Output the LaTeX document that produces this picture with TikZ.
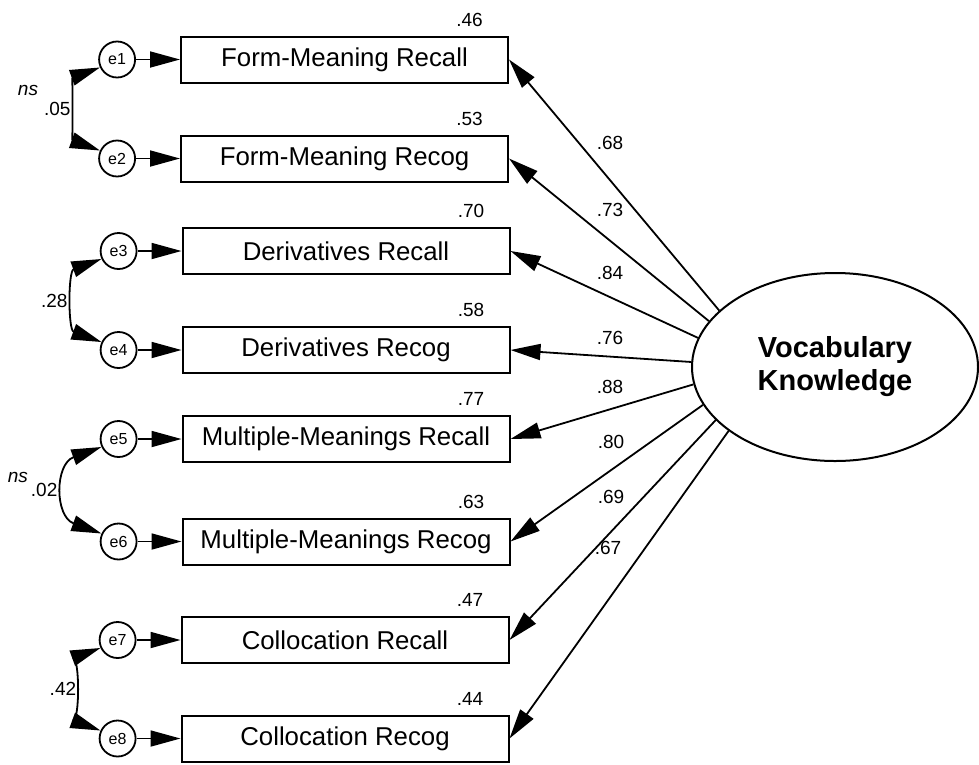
\documentclass[tikz,border=0pt]{standalone}
\usepackage{fontspec}
\setmainfont{Liberation Sans}
\usetikzlibrary{shapes.geometric, arrows.meta, positioning}

\begin{document}
\begin{tikzpicture}[
    x=1pt, y=1pt,
    node distance=44pt,
    indicator/.style={draw, rectangle, line width=2pt, minimum width=327pt, minimum height=46pt, inner sep=0pt, font=\fontsize{25.8}{30}\selectfont},
    error/.style={draw, circle, line width=1.8pt, minimum size=36pt, inner sep=0pt, font=\fontsize{16}{18}\selectfont},
    latent/.style={draw, ellipse, line width=2pt, minimum width=286pt, minimum height=188pt, inner sep=0pt, align=center, font=\fontsize{29}{33}\selectfont\bfseries},
    est/.style={font=\fontsize{19}{22}\selectfont, inner sep=1pt},
    arrow/.style={-{Triangle[length=30pt, width=16pt]}, line width=1.8pt},
    cov/.style={{Triangle[length=30pt, width=16pt]}-{Triangle[length=30pt, width=16pt]}, line width=1.8pt}
]
    \useasboundingbox (0,0) rectangle (979,-764);

    % observed measures
    \node[indicator] (fmrc) at (344.5,-59.5) {Form-Meaning Recall};
    \node[indicator] (fmrg) at (344.5,-158.5) {Form-Meaning Recog};
    \node[indicator] (drc) at (346,-251) {Derivatives Recall};
    \node[indicator] (drg) at (346,-350) {Derivatives Recog};
    \node[indicator] (mmrc) at (346,-439) {Multiple-Meanings Recall};
    \node[indicator] (mmrg) at (346,-541.5) {Multiple-Meanings Recog};
    \node[indicator] (crc) at (345,-640) {Collocation Recall};
    \node[indicator] (crg) at (345,-738.5) {Collocation Recog};

    % residuals
    \node[error, left=of fmrc] (e1) {e1};
    \node[error, left=of fmrg] (e2) {e2};
    \node[error, left=of drc] (e3) {e3};
    \node[error, left=of drg] (e4) {e4};
    \node[error, left=of mmrc] (e5) {e5};
    \node[error, left=of mmrg] (e6) {e6};
    \node[error, left=of crc] (e7) {e7};
    \node[error, left=of crg] (e8) {e8};

    % latent factor
    \node[latent] (vk) at (835,-367) {Vocabulary\\Knowledge};

    % squared multiple correlations
    \node[est, above left=8pt and 25pt of fmrc.north east] (r1) {.46};
    \node[est, above left=8pt and 25pt of fmrg.north east] (r2) {.53};
    \node[est, above left=8pt and 25pt of drc.north east] (r3) {.70};
    \node[est, above left=8pt and 25pt of drg.north east] (r4) {.58};
    \node[est, above left=8pt and 25pt of mmrc.north east] (r5) {.77};
    \node[est, above left=8pt and 25pt of mmrg.north east] (r6) {.63};
    \node[est, above left=8pt and 25pt of crc.north east] (r7) {.47};
    \node[est, above left=8pt and 25pt of crg.north east] (r8) {.44};

    \draw[arrow] (e1) -- (fmrc);
    \draw[arrow] (e2) -- (fmrg);
    \draw[arrow] (e3) -- (drc);
    \draw[arrow] (e4) -- (drg);
    \draw[arrow] (e5) -- (mmrc);
    \draw[arrow] (e6) -- (mmrg);
    \draw[arrow] (e7) -- (crc);
    \draw[arrow] (e8) -- (crg);

    % residual covariances
    \draw[cov] (e1.205) to[out=200, in=160, looseness=0.9] node[est, left=7pt] (c12) {.05} (e2.155);
    \draw[cov] (e3.205) to[out=200, in=160, looseness=1.1] node[est, left=7pt] (c34) {.28} (e4.155);
    \draw[cov] (e5.205) to[out=200, in=160, looseness=1.48] node[est, left=7pt] (c56) {.02} (e6.155);
    \draw[cov] (e7.205) to[out=200, in=160, looseness=0.68] node[est, left=7pt] (c78) {.42} (e8.155);
    \node[est, font=\fontsize{19}{22}\selectfont\itshape, above left=3pt and 3pt of c12.north west] (ns1) {ns};
    \node[est, font=\fontsize{19}{22}\selectfont\itshape, above left=-2pt and 0pt of c56.north west] (ns2) {ns};

    % factor loadings
    \draw[arrow] (vk.154) -- (fmrc.east);
    \draw[arrow] (vk.160.6) -- (fmrg.east);
    \draw[arrow] (vk.168.7) -- (drc.east);
    \draw[arrow] (vk.178.4) -- (drg.east);
    \draw[arrow] (vk.187.2) -- (mmrc.east);
    \draw[arrow] (vk.196) -- (mmrg.east);
    \draw[arrow] (vk.204.6) -- (crc.east);
    \draw[arrow] (vk.211) -- (crg.east);

    \node[est] (l1) at (610,-143) {.68};
    \node[est] (l2) at (610,-210) {.73};
    \node[est] (l3) at (610,-273) {.84};
    \node[est] (l4) at (610,-338) {.76};
    \node[est] (l5) at (610,-387) {.88};
    \node[est] (l6) at (611,-442) {.80};
    \node[est] (l7) at (611,-497) {.69};
    \node[est] (l8) at (608,-548) {.67};
\end{tikzpicture}
\end{document}
